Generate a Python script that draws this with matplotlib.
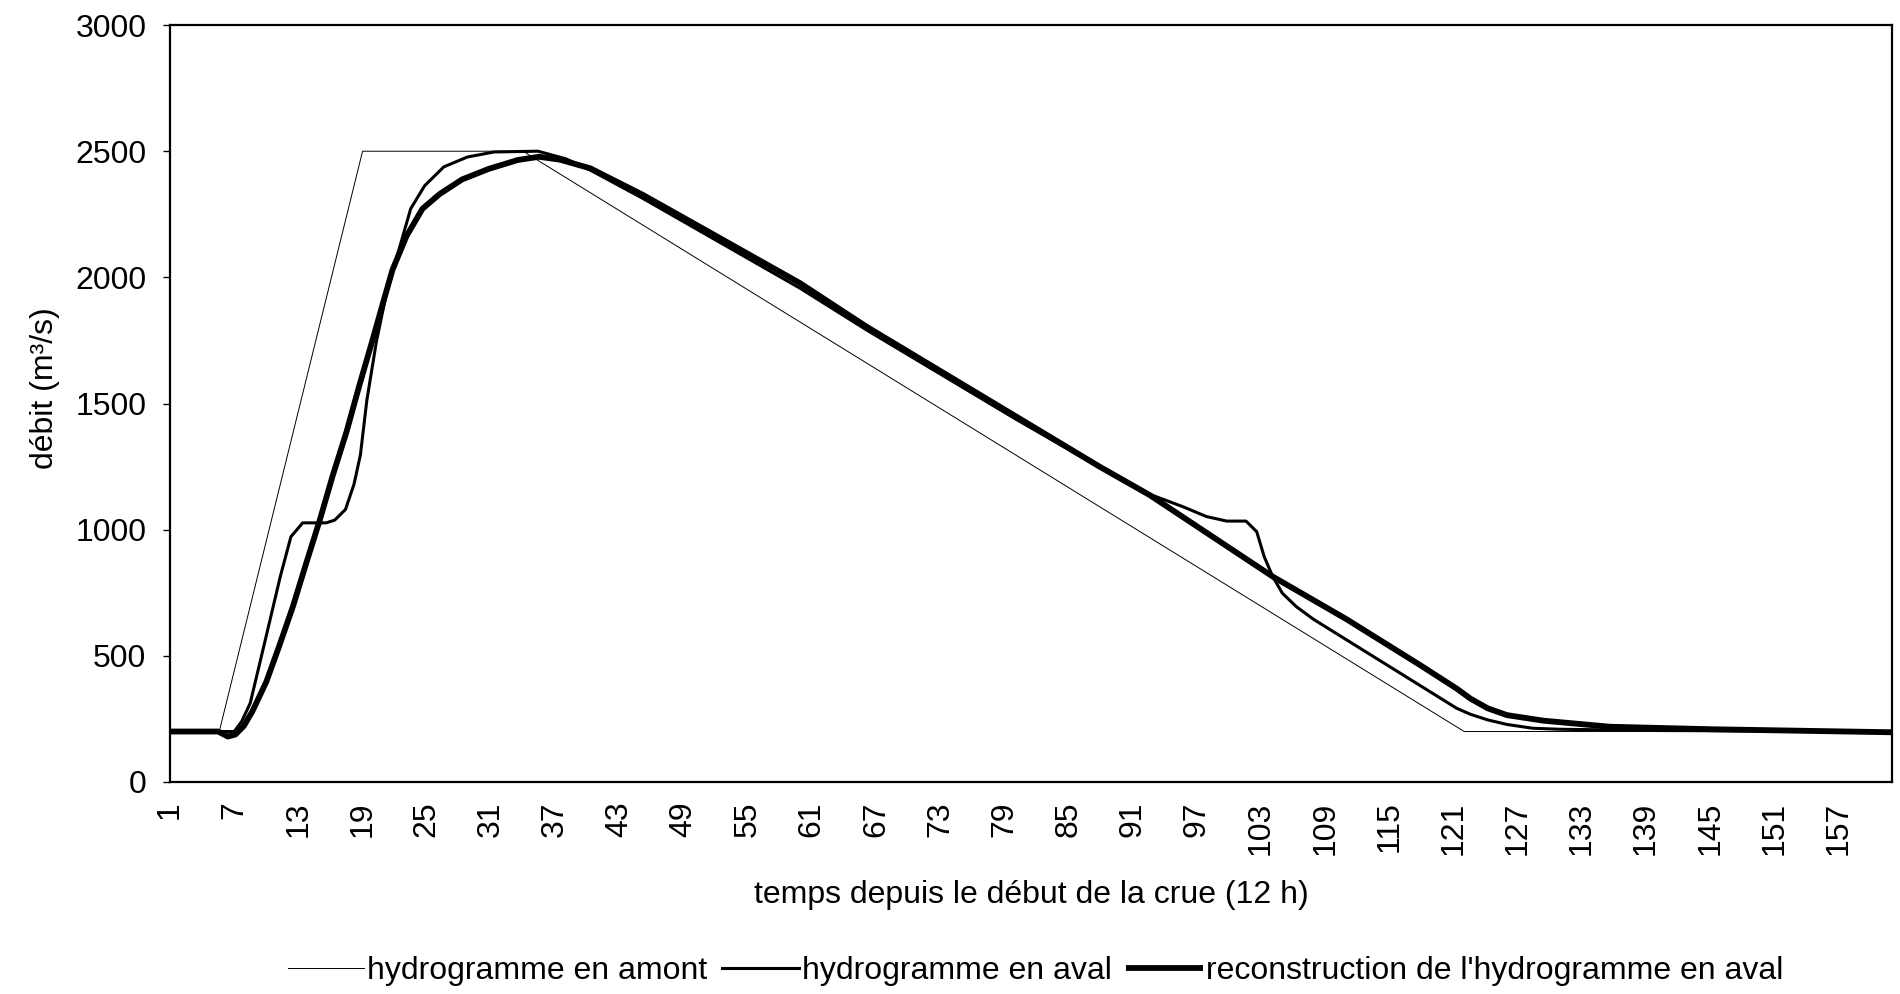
import matplotlib
matplotlib.use("Agg")
import matplotlib.pyplot as plt
import numpy as np

plt.rcParams['font.family'] = ['Liberation Sans', 'DejaVu Sans']

# time step (12 h) and discharge (m3/s)
amont_t = [1, 5.6, 19, 34, 122, 162]
amont_q = [200, 200, 2500, 2500, 200, 200]

aval_t = [1, 7, 7.7, 8.5, 10, 11.3, 12.3, 13.4, 15.6, 16.4, 17.4, 18.2, 18.8,
          19.4, 20.3, 21.2, 22.2, 23.5, 24.8, 26.6, 28.8, 31.3, 35.4, 38, 40.3,
          45.2, 59.9, 66.1, 80, 88, 92.6, 94, 95.7, 97.9, 99.8, 101.6, 102.6,
          103.3, 104.1, 105, 106.3, 107.9, 115, 121.3, 122.6, 124.2, 126,
          128.4, 130.9, 140, 162]
aval_q = [200, 200, 240, 313, 580, 813, 972, 1027, 1027, 1038, 1080, 1180, 1297,
          1513, 1747, 1930, 2080, 2272, 2363, 2438, 2477, 2497, 2500, 2470, 2425,
          2313, 1957, 1792, 1440, 1245, 1140, 1118, 1091, 1052, 1034, 1034, 992,
          893, 814, 748, 695, 645, 458, 292, 268, 246, 228,
          213, 209, 204, 200]

recon_t = [1, 5.5, 6.4, 7.1, 7.9, 8.7, 10, 11.2, 12.5, 13.7, 15, 16.2, 17.5,
           18.7, 19.9, 20.9, 21.8, 23.1, 24.6, 26.2, 28.3, 30.8, 33.5, 35.5,
           37.5, 40.3, 45.2, 50.5, 59.9, 66.1, 87.9, 92.6, 104.1, 111, 118,
           121.3, 122.6, 124.2, 126, 129.4, 135.6, 145.1, 162]
recon_q = [200, 200, 180, 188, 222, 280, 397, 538, 697, 863, 1038, 1213, 1388,
           1572, 1747, 1897, 2030, 2163, 2272, 2330, 2388, 2430, 2465, 2478,
           2466, 2432, 2327, 2201, 1977, 1805, 1250, 1137, 814, 645, 460,
           370, 330, 292, 265, 243, 219, 209, 197]

x_ticks = list(range(1, 158, 6))
y_ticks = [0, 500, 1000, 1500, 2000, 2500, 3000]

fs = 23

fig = plt.figure(figsize=(19, 9.94), dpi=100)
ax = fig.add_axes([0.0895, 0.2133, 0.9063, 0.7615])

ax.plot(amont_t, amont_q, color='black', linewidth=0.7,
        label="hydrogramme en amont")
ax.plot(aval_t, aval_q, color='black', linewidth=2.2, solid_joinstyle='round',
        label="hydrogramme en aval")
ax.plot(recon_t, recon_q, color='black', linewidth=4.2, solid_joinstyle='round',
        solid_capstyle='butt', label="reconstruction de l'hydrogramme en aval")

ax.set_xlim(1, 162)
ax.set_ylim(0, 3000)
ax.set_xticks(x_ticks)
ax.set_xticklabels([str(t) for t in x_ticks], rotation=90)
ax.set_yticks(y_ticks)
ax.tick_params(axis='x', length=0, pad=14, labelsize=fs)
ax.tick_params(axis='y', length=5, width=1, pad=12, labelsize=fs)

for sp in ax.spines.values():
    sp.set_linewidth(1.6)
    sp.set_color('black')

ax.set_ylabel("débit (m³/s)", fontsize=fs)
ax.yaxis.set_label_coords(-0.064, 0.52)
ax.set_xlabel("temps depuis le début de la crue (12 h)", fontsize=fs)
ax.xaxis.set_label_coords(0.5, -0.13)

fig.legend(loc='center', bbox_to_anchor=(0.545, 0.023), ncol=3, frameon=False,
           fontsize=fs, handlelength=2.4, handletextpad=0.1, columnspacing=0.45)

fig.savefig("out.png", dpi=100, facecolor='white')
